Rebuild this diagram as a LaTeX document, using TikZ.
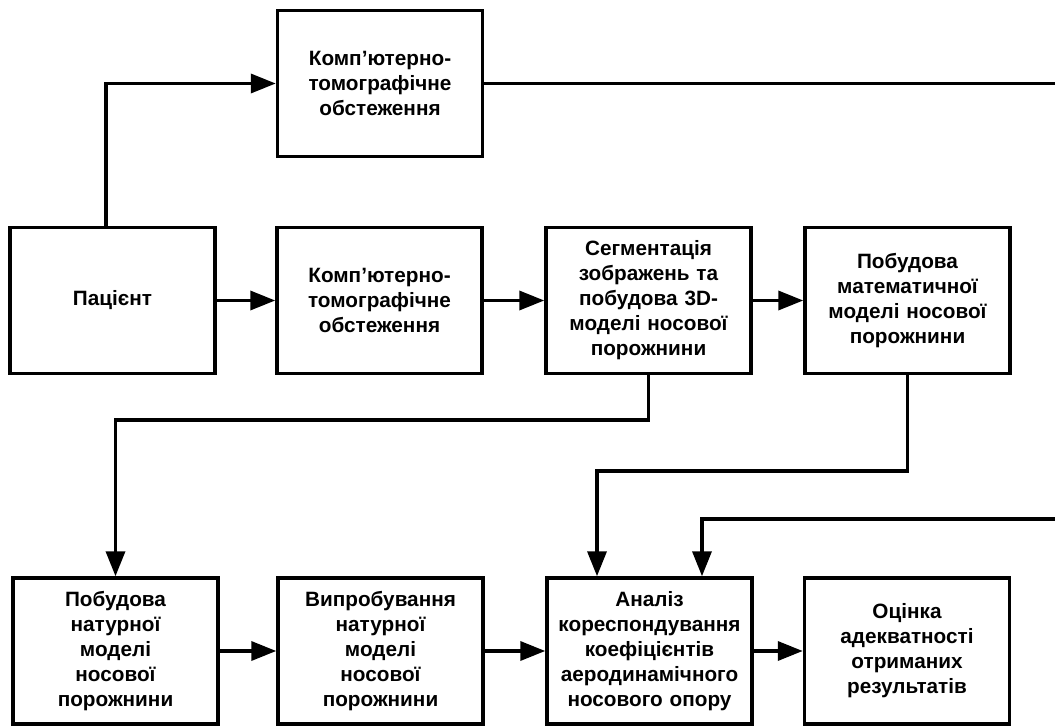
\documentclass[tikz,border=0pt]{standalone}
\usepackage{fontspec}
\setmainfont{Liberation Sans}
\usepackage{tikz}
\usetikzlibrary{arrows.meta}

\begin{document}
\begin{tikzpicture}[x=0.02cm,y=-0.02cm,
  block/.style={draw,line width=2pt,minimum width=4.1cm,minimum height=2.92cm,
    text width=3.95cm,align=center,font=\fontsize{11.8}{14.2}\selectfont\bfseries,inner sep=0pt},
  arr/.style={line width=2pt,-{Triangle[length=0.5cm,width=0.38cm]}},
  lin/.style={line width=2pt}]
  \useasboundingbox (0,0) rectangle (1055,726);
  % top branch
  \node[block] (ct1) at (380,83.5) {Комп’ютерно-\\томографічне\\обстеження};
  % middle row
  \node[block] (pat) at (112.5,300.5) {Пацієнт};
  \node[block] (ct2) at (379.5,300.5) {Комп’ютерно-\\томографічне\\обстеження};
  \node[block] (seg) at (648.5,300.5) {Сегментація\\зображень та\\побудова 3D-\\моделі носової\\порожнини};
  \node[block] (mat) at (907.5,300.5) {Побудова\\математичної\\моделі носової\\порожнини};
  % bottom row
  \node[block] (nat) at (115.5,651) {Побудова\\натурної\\моделі\\носової\\порожнини};
  \node[block] (test) at (380.5,651) {Випробування\\натурної\\моделі\\носової\\порожнини};
  \node[block] (anl) at (649.5,651) {Аналіз\\кореспондування\\коефіцієнтів\\аеродинамічного\\носового опору};
  \node[block] (est) at (907,651) {Оцінка\\адекватності\\отриманих\\результатів};
  % line leaving on the right and coming back
  \coordinate (outA) at (1055,83.5);
  \coordinate (outB) at (1055,519);
  % arrows
  \draw[arr] ([xshift=-0.13cm]pat.north) |- (ct1.west);
  \draw[lin] (ct1.east) -- (outA);
  \draw[arr] (pat) -- (ct2);
  \draw[arr] (ct2) -- (seg);
  \draw[arr] (seg) -- (mat);
  \draw[arr] (seg.south) -- ++(0,45) -| (nat.north);
  \draw[arr] (mat.south) -- ++(0,96) -| ([xshift=-1.05cm]anl.north);
  \draw[arr] (outB) -| ([xshift=1.05cm]anl.north);
  \draw[arr] (nat) -- (test);
  \draw[arr] (test) -- (anl);
  \draw[arr] (anl) -- (est);
\end{tikzpicture}
\end{document}
